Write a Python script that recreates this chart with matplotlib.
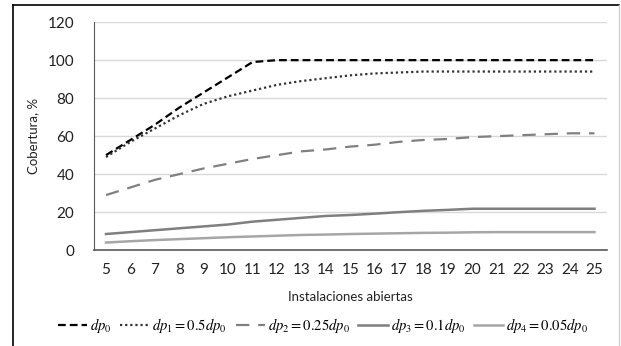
import matplotlib
matplotlib.use("Agg")
import matplotlib.pyplot as plt
from matplotlib.lines import Line2D

plt.rcParams["font.family"] = ["Lato", "DejaVu Sans"]
plt.rcParams["mathtext.fontset"] = "stix"

instalaciones = list(range(5, 26))

dp0 = [50, 58, 66, 75, 83, 91, 99, 100, 100, 100, 100, 100, 100, 100, 100, 100, 100, 100, 100, 100, 100]
dp1 = [49, 57, 64, 71, 77, 81, 84, 87, 89, 90.5, 92, 93, 93.5, 94, 94, 94, 94, 94, 94, 94, 94]
dp2 = [29, 33, 37, 40, 43, 45.5, 48, 50, 52, 53, 54.5, 55.5, 57, 58, 58.5, 59.5, 60, 60.5, 61, 61.5, 61.5]
dp3 = [8.5, 9.5, 10.5, 11.5, 12.5, 13.5, 15, 16, 17, 18, 18.5, 19.2, 20, 20.7, 21.2, 21.8, 21.8, 21.8, 21.8, 21.8, 21.8]
dp4 = [4, 4.7, 5.3, 5.8, 6.3, 6.8, 7.2, 7.6, 8, 8.2, 8.5, 8.7, 8.9, 9.1, 9.2, 9.4, 9.5, 9.5, 9.5, 9.5, 9.5]

labels = [r"$dp_0$", r"$dp_1 = 0.5dp_0$", r"$dp_2 = 0.25dp_0$",
          r"$dp_3 = 0.1dp_0$", r"$dp_4 = 0.05dp_0$"]

fig = plt.figure(figsize=(6.21, 3.46), dpi=100)
ax = fig.add_axes([0.151, 0.277, 0.826, 0.659])

x = range(len(instalaciones))
l0, = ax.plot(x, dp0, color="black", lw=1.6, dashes=(3.5, 1.8))
l1, = ax.plot(x, dp1, color="#333333", lw=1.6, dashes=(1, 1.3))
l2, = ax.plot(x, dp2, color="#808080", lw=1.6, dashes=(6, 4))
l3, = ax.plot(x, dp3, color="#7f7f7f", lw=1.8)
l4, = ax.plot(x, dp4, color="#a6a6a6", lw=1.8)

ax.set_xlim(-0.5, len(instalaciones) - 0.5)
ax.set_ylim(0, 120)
ax.set_yticks(range(0, 121, 20))
ax.set_xticks(list(x))
ax.set_xticklabels([str(v) for v in instalaciones])
ax.tick_params(length=0, labelsize=11, colors="#222222")
ax.tick_params(axis="x", pad=9)
ax.tick_params(axis="y", pad=14)
ax.grid(axis="y", color="#d9d9d9", lw=1)
ax.set_axisbelow(True)
for s in ["top", "right"]:
    ax.spines[s].set_visible(False)
ax.spines["left"].set_color("#595959")
ax.spines["bottom"].set_color("#595959")
ax.spines["bottom"].set_linewidth(1.2)

ax.set_ylabel("Cobertura, %", fontsize=9.5, color="#222222", labelpad=6)
ax.set_xlabel("Instalaciones abiertas", fontsize=9.5, color="#222222", labelpad=10)

fig.legend([l0, l1, l2, l3, l4], labels, loc="center", bbox_to_anchor=(0.52, 0.06),
           ncol=5, frameon=False, fontsize=10.5, handlelength=2.0, handletextpad=0.2,
           columnspacing=0.6)

# outer frame
fig.add_artist(Line2D([0.021, 0.021], [0, 0.986], color="black", lw=1.2))
fig.add_artist(Line2D([0.021, 0.997], [0.986, 0.986], color="black", lw=1.2))
fig.add_artist(Line2D([0.997, 0.997], [0, 0.986], color="#d0d0d0", lw=1))

fig.savefig("out.png", dpi=100)
